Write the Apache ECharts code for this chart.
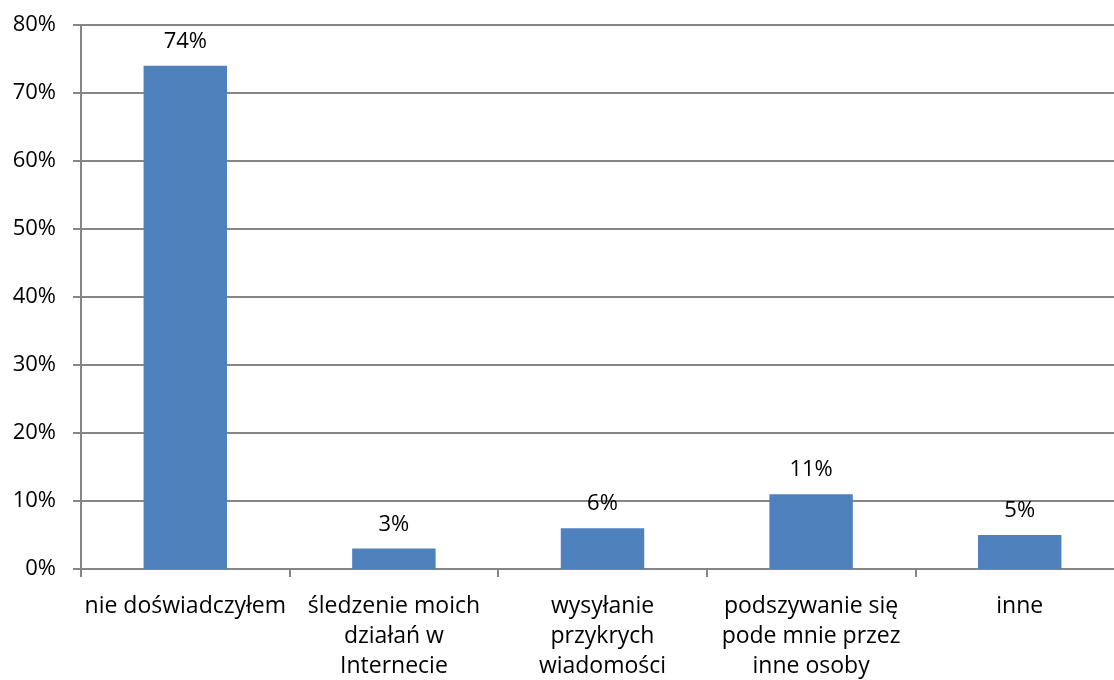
<!DOCTYPE html>
<html><head><meta charset="utf-8">
<script src="https://cdn.jsdelivr.net/npm/echarts@6/dist/echarts.min.js"></script>
<style>html,body{margin:0;padding:0;background:#fff}#c{width:1114px;height:680px}</style>
</head><body><div id="c"></div>
<script>
const categories = ["nie doświadczyłem", "śledzenie moich\ndziałań w\nInternecie", "wysyłanie\nprzykrych\nwiadomości", "podszywanie się\npode mnie przez\ninne osoby", "inne"];
const values = [74, 3, 6, 11, 5];
const yTicks = [0, 10, 20, 30, 40, 50, 60, 70, 80];
const font = "'Open Sans', 'Noto Sans', sans-serif";
const chart = echarts.init(document.getElementById('c'));
chart.setOption({
  animation: false,
  grid: {left: 81, width: 1043, top: 25, bottom: 111, outerBoundsMode: 'none', containLabel: false},
  xAxis: {
    type: 'category', data: categories,
    axisLine: {lineStyle: {color: '#868686', width: 2}},
    axisTick: {show: true, alignWithLabel: false, length: 8, lineStyle: {color: '#868686', width: 2}},
    axisLabel: {color: '#000', fontFamily: font, fontSize: 23, lineHeight: 30, margin: 22, interval: 0}
  },
  yAxis: {
    type: 'value', min: yTicks[0], max: yTicks[yTicks.length - 1], interval: 10,
    axisLine: {show: true, lineStyle: {color: '#868686', width: 2}},
    axisTick: {show: true, length: 8, lineStyle: {color: '#868686', width: 2}},
    splitLine: {lineStyle: {color: '#868686', width: 2}},
    axisLabel: {color: '#000', fontFamily: font, fontSize: 22, margin: 25, formatter: v => v + '%'}
  },
  series: [{
    type: 'bar', data: values, barWidth: '40%',
    itemStyle: {color: '#4F81BD'},
    label: {show: true, position: 'top', distance: 13, color: '#000', fontFamily: font, fontSize: 22, formatter: p => p.value + '%'}
  }]
});
</script></body></html>
